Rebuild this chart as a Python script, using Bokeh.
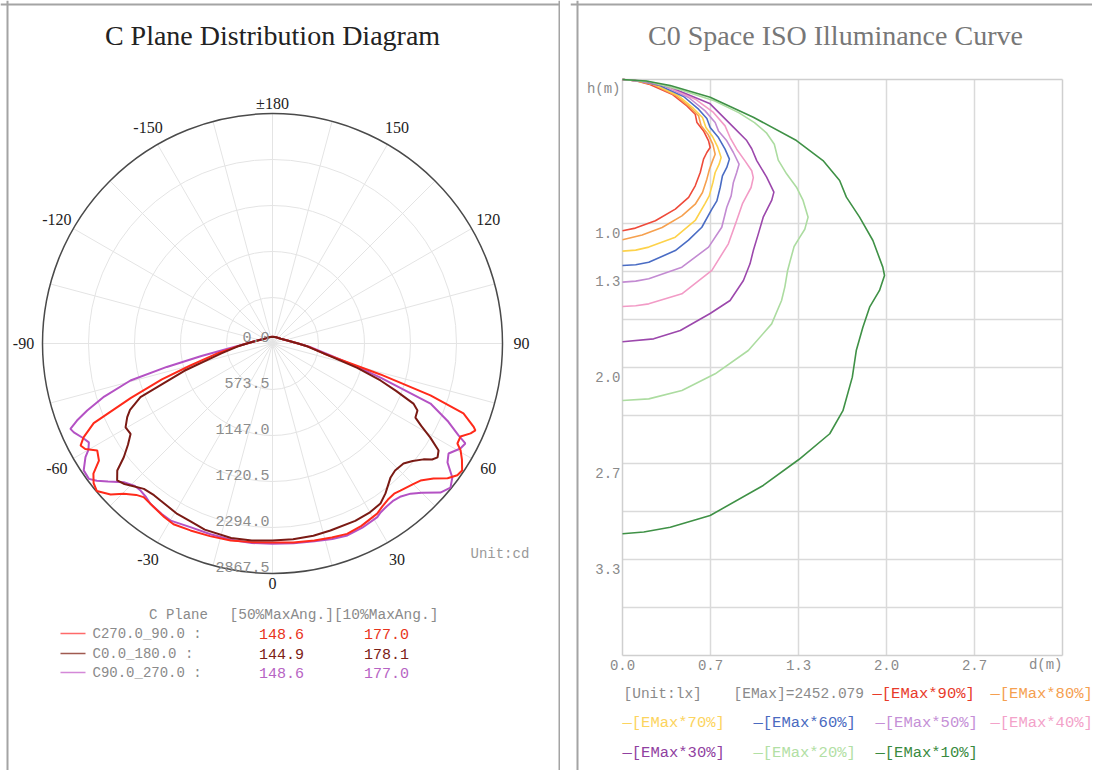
import numpy as np
from bokeh.plotting import figure
from bokeh.layouts import row
from bokeh.models import Range1d, Spacer, Span
from bokeh.core.properties import value
from bokeh.embed import file_html
from bokeh.resources import INLINE

MONO = value("Liberation Mono")
SERIF = value("Liberation Serif")

# ---------------- C plane polar data ----------------
plane_names = ["C270.0_90.0 :", "C0.0_180.0  :", "C90.0_270.0 :"]
half_max_ang = ["148.6", "144.9", "148.6"]
tenth_max_ang = ["177.0", "178.1", "177.0"]
ring_values = [0.0, 573.5, 1147.0, 1720.5, 2294.0, 2867.5]
ring_labels = ["0.0", "573.5", "1147.0", "1720.5", "2294.0", "2867.5"]
angle_ticks = [0, 30, 60, 90, 120, 150, 180, -150, -120, -90, -60, -30]
angle_labels = ["0", "30", "60", "90", "120", "150", "±180", "-150", "-120", "-90", "-60", "-30"]
spoke_angles = list(range(0, 360, 15))

c270_ang = [-180, -150, -120, -100, -90, -85, -80, -75, -72, -69,
            -66, -63.6, -62, -60.6, -58.6, -56, -54, -52, -50, -47,
            -44.7, -42, -40, -36, -32, -28.7, -23.7, -18, -12, -6,
            0, 6, 12, 17, 21.4, 26, 31.6, 34, 36.5, 39,
            41, 45, 47.2, 50, 52.4, 54.5, 56.2, 58.5, 60.4, 61.6,
            63.7, 65.6, 66.8, 67.5, 69.9, 71.8, 74, 79, 85, 90,
            100, 120, 150, 180]
c270_cd = [85, 90, 120, 200, 320, 450, 690, 1060, 1450, 1890,
           2440, 2630, 2710, 2680, 2560, 2610, 2760, 2830, 2860, 2760,
           2636, 2540, 2500, 2520, 2550, 2570, 2545, 2525, 2510, 2490,
           2480, 2495, 2510, 2530, 2549, 2530, 2490, 2450, 2420, 2410,
           2430, 2480, 2515, 2620, 2755, 2830, 2845, 2770, 2697, 2621,
           2615, 2712, 2752, 2715, 2535, 2073, 1400, 650, 450, 320,
           200, 120, 90, 85]

c0_ang = [-180, -150, -120, -100, -90, -85, -79, -72.8, -67.9, -65,
          -63.1, -60.3, -57.5, -55, -52.6, -50.7, -48.6, -46.5, -45, -41.5,
          -38, -35.5, -29.2, -24.9, -20, -12, -6, 0, 6, 12,
          17.2, 25, 30, 34, 37, 41.4, 44, 47.5, 50, 52.5,
          54, 55.4, 57.2, 59.2, 61, 62.6, 65.2, 66.9, 69, 71.1,
          74, 79, 85, 90, 100, 120, 150, 180]
c0_cd = [85, 90, 120, 200, 320, 440, 650, 1150, 1777, 1960,
         2031, 2109, 2098, 2200, 2334, 2501, 2582, 2545, 2504, 2420,
         2400, 2405, 2434, 2440, 2470, 2480, 2470, 2456, 2455, 2450,
         2441, 2440, 2430, 2407, 2340, 2226, 2200, 2215, 2280, 2373,
         2460, 2500, 2463, 2291, 2120, 2007, 1991, 1910, 1650, 1423,
         1100, 650, 440, 320, 200, 120, 90, 85]

c90_ang = [-180, -150, -120, -100, -90, -85, -80, -77.5, -75.4, -72.5,
           -70.1, -68.5, -67.1, -65.9, -63.5, -61.7, -60, -58.7, -56.1, -53.6,
           -52, -50, -47, -44, -41.9, -39.5, -37.3, -33, -29.9, -24.1,
           -18, -12, -6, 0, 6, 12, 17, 21.3, 26, 31.1,
           32.6, 35, 37.6, 40, 42.6, 45, 48.4, 51, 53.3, 55.8,
           58, 60.8, 62.6, 63.7, 66, 69.2, 72.5, 75, 79, 85,
           90, 100, 120, 150, 180]
c90_cd = [85, 90, 120, 200, 320, 470, 900, 1350, 1830, 2200,
          2457, 2620, 2735, 2713, 2640, 2600, 2650, 2729, 2836, 2844,
          2780, 2677, 2535, 2470, 2463, 2480, 2512, 2535, 2547, 2508,
          2500, 2500, 2500, 2498, 2505, 2520, 2550, 2569, 2555, 2529,
          2500, 2480, 2472, 2490, 2543, 2630, 2800, 2855, 2796, 2638,
          2588, 2683, 2708, 2587, 2400, 2107, 1412, 1050, 700, 460,
          320, 200, 120, 90, 85]

polar_colors = ["#ff2a1a", "#7a1a14", "#b452c4"]
value_colors = ["#e8341c", "#7b2016", "#b764c4"]
sample_colors = ["#ff6a6a", "#a05a50", "#d488d8"]

# ---------------- ISO illuminance data ----------------
emax_text = "[EMax]=2452.079"
unit_text = "[Unit:lx]"
x_ticks = [0.0, 2 / 3, 4 / 3, 2.0, 8 / 3]
x_tick_labels = ["0.0", "0.7", "1.3", "2.0", "2.7"]
y_ticks = [1.0, 4 / 3, 2.0, 8 / 3, 10 / 3]
y_tick_labels = ["1.0", "1.3", "2.0", "2.7", "3.3"]
h_grid = [1.0, 4 / 3, 5 / 3, 2.0, 7 / 3, 8 / 3, 3.0, 10 / 3, 11 / 3]
d_grid = [2 / 3, 4 / 3, 2.0, 8 / 3]
d_max, h_max = 10 / 3, 4.0

e90_d = [0, 0.1, 0.199, 0.375, 0.488, 0.551, 0.564, 0.614, 0.652, 0.664, 0.639, 0.614, 0.589, 0.551, 0.501, 0.40, 0.249, 0.098, 0]
e90_h = [0, 0.008, 0.032, 0.102, 0.183, 0.241, 0.299, 0.357, 0.426, 0.472, 0.507, 0.553, 0.646, 0.738, 0.819, 0.90, 0.981, 1.032, 1.05]
e80_d = [0, 0.11, 0.224, 0.40, 0.513, 0.576, 0.596, 0.647, 0.684, 0.702, 0.682, 0.659, 0.639, 0.606, 0.551, 0.45, 0.30, 0.149, 0]
e80_h = [0, 0.009, 0.032, 0.109, 0.194, 0.252, 0.322, 0.38, 0.449, 0.519, 0.565, 0.623, 0.692, 0.785, 0.866, 0.947, 1.028, 1.080, 1.113]
e70_d = [0, 0.12, 0.249, 0.425, 0.538, 0.606, 0.632, 0.682, 0.722, 0.747, 0.732, 0.702, 0.685, 0.657, 0.626, 0.551, 0.40, 0.199, 0.1, 0]
e70_h = [0, 0.01, 0.037, 0.113, 0.201, 0.264, 0.333, 0.396, 0.472, 0.542, 0.588, 0.646, 0.715, 0.808, 0.86, 0.979, 1.095, 1.164, 1.185, 1.192]
e60_d = [0, 0.13, 0.274, 0.463, 0.576, 0.639, 0.664, 0.727, 0.777, 0.81, 0.79, 0.757, 0.74, 0.715, 0.677, 0.601, 0.50, 0.40, 0.199, 0.1, 0]
e60_h = [0, 0.01, 0.039, 0.118, 0.206, 0.271, 0.333, 0.403, 0.484, 0.553, 0.611, 0.669, 0.75, 0.843, 0.90, 1.026, 1.115, 1.188, 1.269, 1.286, 1.292]
e50_d = [0, 0.14, 0.30, 0.501, 0.626, 0.702, 0.727, 0.79, 0.84, 0.883, 0.865, 0.84, 0.823, 0.79, 0.752, 0.652, 0.45, 0.199, 0.1, 0]
e50_h = [0, 0.011, 0.039, 0.125, 0.218, 0.299, 0.357, 0.426, 0.507, 0.588, 0.646, 0.715, 0.808, 0.887, 1.026, 1.164, 1.303, 1.384, 1.40, 1.407]
e40_d = [0, 0.15, 0.325, 0.551, 0.689, 0.777, 0.815, 0.865, 0.928, 0.979, 0.991, 0.974, 0.945, 0.91, 0.865, 0.802, 0.677, 0.45, 0.199, 0.1, 0]
e40_h = [0, 0.012, 0.044, 0.137, 0.229, 0.322, 0.403, 0.484, 0.565, 0.634, 0.681, 0.75, 0.80, 0.86, 0.979, 1.141, 1.326, 1.488, 1.558, 1.571, 1.576]
e30_d = [0, 0.17, 0.362, 0.664, 0.84, 0.941, 0.979, 1.017, 1.092, 1.147, 1.13, 1.104, 1.066, 1.029, 0.991, 0.966, 0.916, 0.815, 0.664, 0.438, 0.236, 0]
e30_h = [0, 0.013, 0.053, 0.169, 0.331, 0.424, 0.481, 0.563, 0.678, 0.782, 0.84, 0.887, 0.956, 1.072, 1.188, 1.28, 1.396, 1.535, 1.625, 1.743, 1.801, 1.821]
e20_d = [0, 0.2, 0.413, 0.70, 0.88, 1.0, 1.09, 1.15, 1.18, 1.243, 1.318, 1.368, 1.406, 1.381, 1.34, 1.30, 1.27, 1.25, 1.23, 1.205, 1.13, 0.953, 0.702, 0.45, 0.199, 0]
e20_h = [0, 0.015, 0.065, 0.15, 0.23, 0.30, 0.37, 0.45, 0.56, 0.655, 0.748, 0.84, 0.956, 1.04, 1.10, 1.16, 1.26, 1.33, 1.44, 1.535, 1.697, 1.882, 2.044, 2.16, 2.218, 2.229]
e10_d = [0, 0.18, 0.362, 0.664, 0.991, 1.318, 1.519, 1.645, 1.696, 1.796, 1.897, 1.972, 1.985, 1.947, 1.872, 1.821, 1.771, 1.741, 1.67, 1.57, 1.336, 1.066, 0.664, 0.362, 0.161, 0]
e10_h = [0, 0.01, 0.042, 0.123, 0.262, 0.424, 0.563, 0.701, 0.817, 0.956, 1.118, 1.303, 1.361, 1.465, 1.581, 1.72, 1.882, 2.067, 2.30, 2.46, 2.639, 2.819, 3.028, 3.109, 3.142, 3.155]

iso_labels = ["[EMax*90%]", "[EMax*80%]", "[EMax*70%]", "[EMax*60%]", "[EMax*50%]",
              "[EMax*40%]", "[EMax*30%]", "[EMax*20%]", "[EMax*10%]"]
iso_colors = ["#ee4a3a", "#f6a04e", "#fdd24a", "#4a6cc4", "#c38bd2",
              "#f29bc6", "#9c48ac", "#acdca0", "#3f9146"]
iso_text_colors = ["#e83a2a", "#f5a050", "#fcd45e", "#4a6ac0", "#c58fd6",
                   "#f3a2c9", "#9040a0", "#b2e0a4", "#3a8a40"]

# ================= left panel: polar =================
W1, H1 = 560, 770
CX, CY = 272, 343          # polar centre (page px)
K = ring_values[-1] / 230  # cd per pixel
p1 = figure(width=W1, height=H1, output_backend="svg", toolbar_location=None,
            x_range=Range1d(-CX * K, (W1 - CX) * K), y_range=Range1d(-(H1 - CY) * K, CY * K),
            x_axis_type=None, y_axis_type=None, min_border=0)
p1.outline_line_color = None


def X1(xp):
    return (xp - CX) * K


def Y1(yp):
    return (CY - yp) * K


R = ring_values[-1]
sa = np.radians(spoke_angles)
p1.segment(x0=0, y0=0, x1=R * np.sin(sa), y1=-R * np.cos(sa), line_color="#e4e4e4", line_width=1)
p1.circle(x=[0] * 4, y=[0] * 4, radius=ring_values[1:5], fill_color=None,
          line_color="#e4e4e4", line_width=1)
p1.circle(x=[0], y=[0], radius=[R], fill_color=None, line_color="#4a4a4a", line_width=1.5)

for ang, cd, col in [(c90_ang, c90_cd, polar_colors[2]), (c270_ang, c270_cd, polar_colors[0]),
                     (c0_ang, c0_cd, polar_colors[1])]:
    a = np.radians(ang)
    c = np.array(cd, dtype=float)
    p1.line(c * np.sin(a), -c * np.cos(a), line_color=col, line_width=2)

p1.text(x=[X1(269)] * len(ring_values), y=[-v + 1.5 * K for v in ring_values], text=ring_labels,
        text_font=MONO, text_font_size="15px", text_color="#8c8c8c",
        text_align="right", text_baseline="bottom")
ta = np.radians(angle_ticks)
lr = np.where(np.abs(np.array(angle_ticks)) % 180 == 0, 240, 249) * K
p1.text(x=lr * np.sin(ta), y=-lr * np.cos(ta), text=angle_labels, text_font=SERIF,
        text_font_size="16px", text_color="#222222", text_align="center", text_baseline="middle")
p1.text(x=[X1(272)], y=[Y1(35)], text=["C Plane Distribution Diagram"], text_font=SERIF,
        text_font_size="28px", text_color="#222222", text_align="center", text_baseline="middle")
p1.text(x=[X1(470)], y=[Y1(553)], text=["Unit:cd"], text_font=MONO, text_font_size="14px",
        text_color="#999999", text_align="left", text_baseline="middle")

p1.text(x=[X1(178)], y=[Y1(614)], text=["C Plane"], text_font=MONO, text_font_size="14px",
        text_color="#8a8a8a", text_align="center", text_baseline="middle")
p1.text(x=[X1(229)], y=[Y1(614)], text=["[50%MaxAng.][10%MaxAng.]"], text_font=MONO,
        text_font_size="14.5px", text_color="#8a8a8a", text_align="left", text_baseline="middle")
rows_y = [Y1(633), Y1(653), Y1(672)]
p1.segment(x0=[X1(60)] * 3, y0=rows_y, x1=[X1(85)] * 3, y1=rows_y, line_color=sample_colors, line_width=1.6)
p1.text(x=[X1(92)] * 3, y=rows_y, text=plane_names, text_font=MONO, text_font_size="14px",
        text_color="#8a8a8a", text_align="left", text_baseline="middle")
p1.text(x=[X1(281)] * 3, y=rows_y, text=half_max_ang, text_font=MONO, text_font_size="15px",
        text_color=value_colors, text_align="center", text_baseline="middle")
p1.text(x=[X1(386)] * 3, y=rows_y, text=tenth_max_ang, text_font=MONO, text_font_size="15px",
        text_color=value_colors, text_align="center", text_baseline="middle")

for loc, dim in [(X1(7), "height"), (X1(559), "height"), (Y1(4), "width")]:
    p1.add_layout(Span(location=loc, dimension=dim, line_color="#a4a4a4", line_width=2))

# ================= right panel: ISO curves =================
P2X, W2, H2 = 570, 522, 770
OX, OY = 622, 79                 # plot-area origin (page px)
SX = 440 / d_max                 # px per metre horizontally
SY = 576 / h_max                 # px per metre vertically
p2 = figure(width=W2, height=H2, output_backend="svg", toolbar_location=None,
            x_range=Range1d((P2X - OX) / SX, (P2X + W2 - OX) / SX),
            y_range=Range1d((H2 - OY) / SY, -OY / SY),
            x_axis_type=None, y_axis_type=None, min_border=0)
p2.outline_line_color = None


def X2(xp):
    return (xp - OX) / SX


def Y2(yp):
    return (yp - OY) / SY


gc = "#dadada"
p2.segment(x0=0, y0=h_grid, x1=d_max, y1=h_grid, line_color=gc, line_width=1.5)
p2.segment(x0=d_grid, y0=0, x1=d_grid, y1=h_max, line_color=gc, line_width=1.5)
p2.segment(x0=[0, 0, 0, d_max], y0=[0, h_max, 0, 0], x1=[d_max, d_max, 0, d_max], y1=[0, h_max, h_max, h_max],
           line_color="#cfcfcf", line_width=1.5)

iso_d = [e90_d, e80_d, e70_d, e60_d, e50_d, e40_d, e30_d, e20_d, e10_d]
iso_h = [e90_h, e80_h, e70_h, e60_h, e50_h, e40_h, e30_h, e20_h, e10_h]
for d, h, col in zip(iso_d, iso_h, iso_colors):
    p2.line(d, h, line_color=col, line_width=1.6)

off = 9 / SY
p2.text(x=x_ticks, y=[h_max + off] * len(x_ticks), text=x_tick_labels, text_font=MONO,
        text_font_size="14px", text_color="#8a8a8a", text_align="center", text_baseline="middle")
p2.text(x=[d_max], y=[h_max + off], text=["d(m)"], text_font=MONO, text_font_size="14px",
        text_color="#8a8a8a", text_align="right", text_baseline="middle")
p2.text(x=[-2 / SX] * len(y_ticks), y=[t + off for t in y_ticks], text=y_tick_labels, text_font=MONO,
        text_font_size="14px", text_color="#8a8a8a", text_align="right", text_baseline="middle")
p2.text(x=[-2 / SX], y=[off], text=["h(m)"], text_font=MONO, text_font_size="14px",
        text_color="#8a8a8a", text_align="right", text_baseline="middle")
p2.text(x=[X2(835)], y=[Y2(35)], text=["C0 Space ISO Illuminance Curve"], text_font=SERIF,
        text_font_size="28px", text_color="#777777", text_align="center", text_baseline="middle")

p2.text(x=[X2(623), X2(733)], y=[Y2(693)] * 2, text=[unit_text, emax_text], text_font=MONO,
        text_font_size="14.5px", text_color="#8a8a8a", text_align="left", text_baseline="middle")
leg_x = [872, 990, 622, 753, 875, 990, 622, 753, 875]
leg_y = [693, 693, 722, 722, 722, 722, 752, 752, 752]
p2.text(x=[X2(v) for v in leg_x], y=[Y2(v) for v in leg_y], text=["—" + s for s in iso_labels],
        text_font=MONO, text_font_size="15.5px", text_color=iso_text_colors,
        text_align="left", text_baseline="middle")

for loc, dim in [(X2(577), "height"), (Y2(4), "width")]:
    p2.add_layout(Span(location=loc, dimension=dim, line_color="#a4a4a4", line_width=2))

layout = row(p1, Spacer(width=P2X - W1, height=10), p2)
open("out.html", "w").write(file_html(layout, INLINE))
